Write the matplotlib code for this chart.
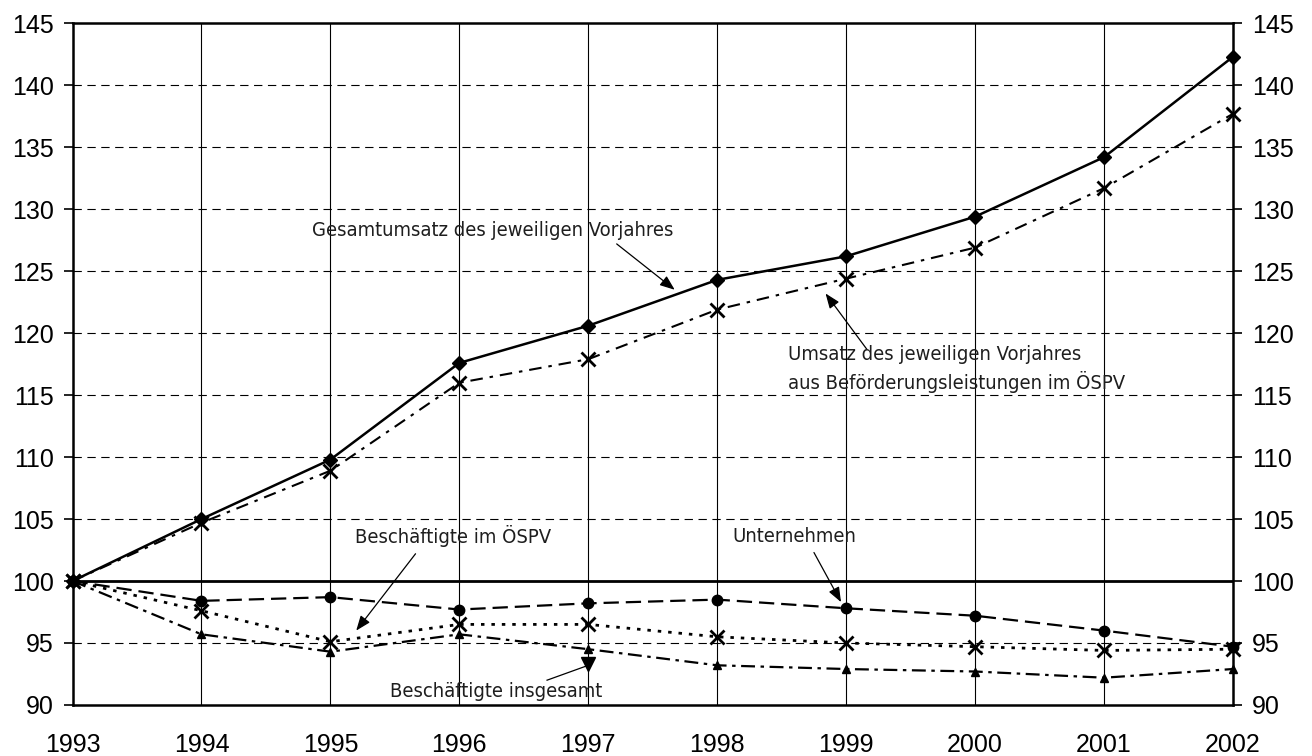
import matplotlib
matplotlib.use('Agg')
import matplotlib.pyplot as plt
from matplotlib import font_manager

# Index values (1993 = 100)
years = [1993, 1994, 1995, 1996, 1997, 1998, 1999, 2000, 2001, 2002]
gesamtumsatz = [100, 105.0, 109.8, 117.6, 120.6, 124.3, 126.2, 129.4, 134.2, 142.3]
umsatz_ospv = [100, 104.7, 108.9, 116.0, 117.9, 121.9, 124.4, 126.9, 131.7, 137.7]
unternehmen = [100, 98.4, 98.7, 97.7, 98.2, 98.5, 97.8, 97.2, 96.0, 94.7]
besch_ospv = [100, 97.6, 95.1, 96.5, 96.5, 95.5, 95.0, 94.7, 94.4, 94.5]
besch_gesamt = [100, 95.7, 94.3, 95.7, 94.5, 93.2, 92.9, 92.7, 92.2, 92.9]
y_ticks = [90, 95, 100, 105, 110, 115, 120, 125, 130, 135, 140, 145]

plt.rcParams['lines.scale_dashes'] = False


def pick_font(names):
    for n in names:
        try:
            font_manager.findfont(n, fallback_to_default=False)
            return n
        except Exception:
            continue
    return 'DejaVu Sans'


tick_font = pick_font(['Liberation Sans', 'Arial'])

# condensed face for the notes if there is one
note_size = 13
cond = font_manager.findfont(font_manager.FontProperties(family='DejaVu Sans', stretch='condensed'))
if 'ondensed' in cond:
    note_fp = font_manager.FontProperties(fname=cond)
    note_size = 14.5
else:
    note_fp = font_manager.FontProperties(family='DejaVu Sans')

fig = plt.figure(figsize=(13.12, 7.56), dpi=100)
ax = fig.add_axes([0.0553, 0.0675, 0.8845, 0.9017])

ax.set_xlim(years[0], years[-1])
ax.set_ylim(90, 145)

# grid
for yr in years[1:-1]:
    ax.axvline(yr, color='black', lw=0.8, zorder=1)
for v in y_ticks:
    if v in (90, 100, 145):
        continue
    ax.axhline(v, color='black', lw=0.8, dashes=(6, 4), zorder=1)
ax.axhline(100, color='black', lw=2.0, zorder=2)

# series
ax.plot(years, gesamtumsatz, color='black', lw=1.8, marker='D', ms=7.5,
        clip_on=False, zorder=5)
ax.plot(years, umsatz_ospv, color='black', lw=1.5, dashes=(9, 5, 2.5, 5),
        marker='x', ms=9.5, mew=2, clip_on=False, zorder=5)
ax.plot(years, unternehmen, color='black', lw=1.6, dashes=(11, 5),
        marker='o', ms=7.5, clip_on=False, zorder=5)
ax.plot(years, besch_ospv, color='black', lw=2.0, dashes=(2.5, 5),
        marker='x', ms=9.5, mew=2, clip_on=False, zorder=5)
ax.plot(years, besch_gesamt, color='black', lw=1.6, dashes=(10, 4, 2.5, 4),
        marker='^', ms=6, clip_on=False, zorder=5)

# annotations
arrow_kw = dict(arrowstyle='-|>,head_length=0.9,head_width=0.35', color='black', lw=0.9,
                shrinkA=0, shrinkB=0)


def note(x, y, s, **kw):
    t = ax.text(x, y, s, ha='left', va='center', fontproperties=note_fp,
                color='#1e1e1e', zorder=6, **kw)
    t.set_fontsize(note_size)
    return t


note(1994.86, 128.27, 'Gesamtumsatz des jeweiligen Vorjahres')
ax.annotate('', xy=(1997.67, 123.5), xytext=(1997.22, 127.2), arrowprops=arrow_kw)

note(1998.55, 117.1, 'Umsatz des jeweiligen Vorjahres\naus Beförderungsleistungen im ÖSPV',
     linespacing=1.4)
ax.annotate('', xy=(1998.84, 123.2), xytext=(1999.16, 118.7), arrowprops=arrow_kw)

note(1995.19, 103.6, 'Beschäftigte im ÖSPV')
ax.annotate('', xy=(1995.2, 96.0), xytext=(1995.66, 102.2), arrowprops=arrow_kw)

note(1998.12, 103.6, 'Unternehmen')
ax.annotate('', xy=(1998.96, 98.3), xytext=(1998.75, 102.3), arrowprops=arrow_kw)

note(1995.46, 91.1, 'Beschäftigte insgesamt')
ax.plot([1996.68, 1997.0], [92.0, 93.2], color='black', lw=0.9, zorder=6)
ax.plot([1997.0], [93.3], marker='v', ms=10, color='black', zorder=6)

# axes / ticks
ax.set_xticks(years)
ax.set_xticklabels([str(y) for y in years], fontsize=18, family=tick_font)
ax.tick_params(axis='x', length=0, pad=20)
ax.set_yticks(y_ticks)
ax.set_yticklabels([str(v) for v in y_ticks], fontsize=18, family=tick_font)
ax.tick_params(axis='y', direction='out', length=6.5, width=1.2,
               left=True, right=True, labelleft=True, labelright=True, pad=7)
for t in ax.yaxis.get_major_ticks():
    t.label2.set_fontfamily(tick_font)
    t.label2.set_fontsize(18)

for s in ax.spines.values():
    s.set_linewidth(1.8)
    s.set_color('black')

fig.savefig('out.png', dpi=100)
